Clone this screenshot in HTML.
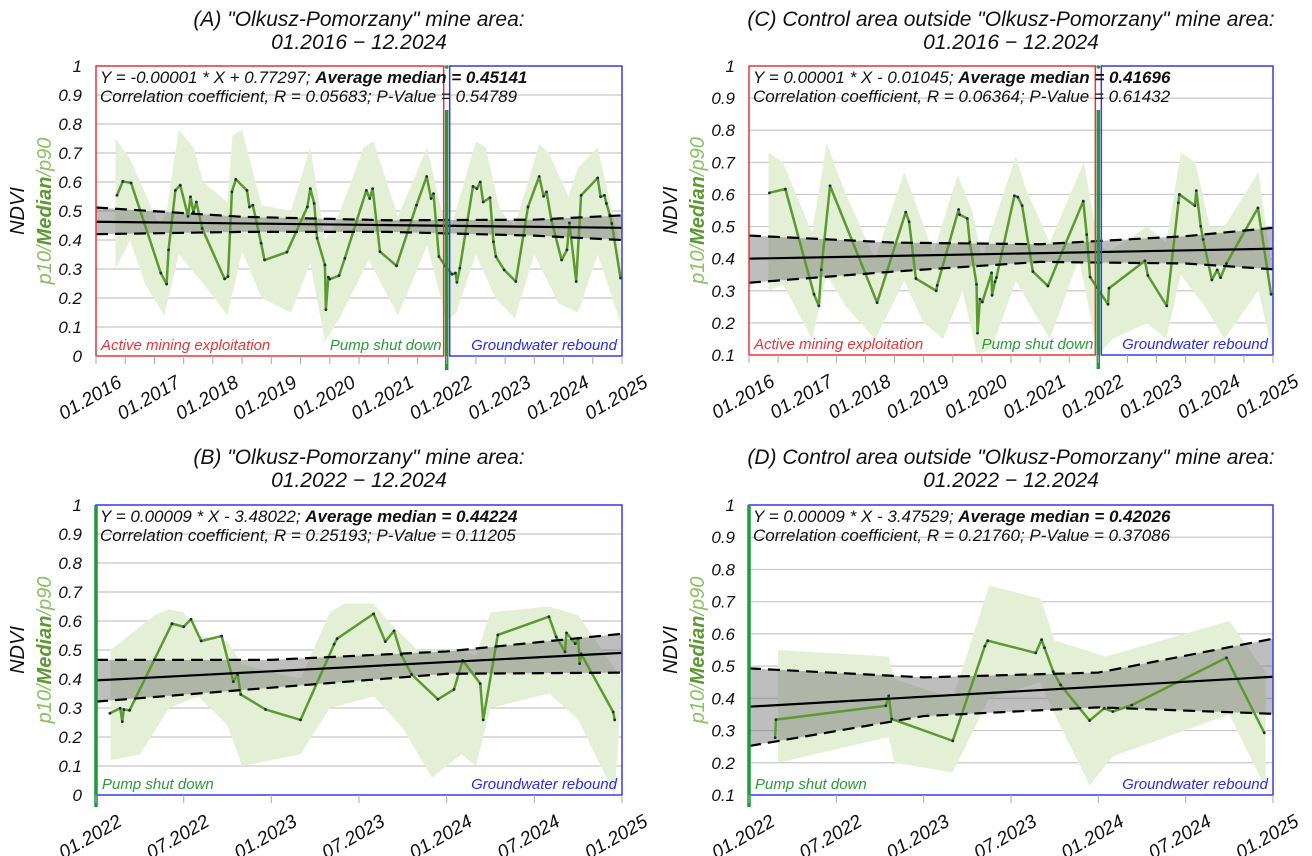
<!DOCTYPE html>
<html><head><meta charset="utf-8">
<style>
body{margin:0;background:#fff;}
svg{display:block;font-family:"Liberation Sans",sans-serif;}
</style></head>
<body>
<svg id="chart" width="1312" height="856" viewBox="0 0 1312 856" xmlns="http://www.w3.org/2000/svg"></svg>
<script>
// ---------- Panel A data (months since 01.2016) ----------
const aMonths=[4.3,5.5,7.2,13.3,14.5,14.9,16.3,17.3,18.9,19.4,20.0,20.6,21.8,26.4,27.1,27.9,28.7,31.0,31.5,32.2,33.9,34.6,39.2,43.4,44.0,44.8,45.4,47.0,47.2,47.7,48.0,49.9,51.1,55.5,56.2,56.8,58.3,61.7,65.8,67.9,68.8,69.3,70.4,71.7,73.1,73.8,74.1,74.7,77.4,78.2,78.9,79.5,80.9,81.6,82.1,83.8,86.2,88.7,91.0,91.9,92.5,93.5,95.6,96.7,97.2,98.6,99.6,103.0,103.6,104.4,104.8,105.5,105.9,107.7];
const aMedian=[0.554,0.602,0.597,0.286,0.248,0.366,0.571,0.589,0.482,0.549,0.497,0.531,0.44,0.266,0.274,0.566,0.609,0.571,0.514,0.52,0.389,0.331,0.358,0.514,0.577,0.526,0.406,0.314,0.16,0.272,0.265,0.277,0.337,0.571,0.543,0.577,0.36,0.311,0.52,0.619,0.543,0.56,0.343,0.311,0.282,0.286,0.254,0.303,0.585,0.577,0.6,0.531,0.546,0.394,0.343,0.297,0.257,0.514,0.619,0.551,0.566,0.469,0.331,0.366,0.459,0.257,0.554,0.614,0.549,0.554,0.526,0.486,0.457,0.269];
const aP90Months=[4,7,13,14.5,17,20,22,27,28,30,34,40,44,47,49,55,57,62,68,71,73,78,80,83,86,91,93,97,99,103,108];
const aP90=[0.75,0.68,0.45,0.5,0.78,0.72,0.6,0.53,0.76,0.78,0.52,0.5,0.72,0.4,0.45,0.72,0.74,0.48,0.72,0.5,0.45,0.74,0.72,0.5,0.45,0.73,0.7,0.55,0.65,0.72,0.35];
const aP10Months=[4,7,10,14,17,22,27,30,34,40,44,47,50,56,62,68,72,74,78,82,86,90,95,99,103,108];
const aP10=[0.3,0.4,0.25,0.14,0.35,0.25,0.14,0.36,0.2,0.15,0.32,0.05,0.13,0.33,0.14,0.38,0.12,0.15,0.35,0.2,0.13,0.35,0.18,0.15,0.35,0.1];
const aTrendMonths=[0,108];
const aTrend=[0.463,0.442];
const aCiMonths=[0,30,60,90,108];
const aCiUpper=[0.512,0.48,0.468,0.47,0.485];
const aCiLower=[0.42,0.428,0.428,0.415,0.40];

// ---------- Panel C data ----------
const cMonths=[4.2,7.5,13.4,14.4,14.9,16.7,26.4,32.3,33.0,34.4,38.6,38.8,43.2,43.4,45.0,45.5,46.9,47.1,47.6,48.1,50.0,50.1,50.7,51.0,54.7,55.4,56.3,58.5,61.6,68.9,69.6,70.3,71.7,74.0,74.2,81.6,82.2,86.1,88.5,88.7,91.9,92.2,93.1,93.6,95.4,96.5,97.2,98.4,104.9,107.6];
const cMedian=[0.605,0.617,0.289,0.253,0.365,0.627,0.263,0.545,0.515,0.338,0.3,0.317,0.553,0.537,0.525,0.452,0.32,0.168,0.274,0.265,0.356,0.286,0.328,0.341,0.596,0.592,0.565,0.36,0.315,0.579,0.475,0.343,0.31,0.258,0.308,0.393,0.348,0.253,0.574,0.6,0.565,0.612,0.501,0.46,0.334,0.365,0.341,0.385,0.558,0.289];
const cP90Months=[4,7,13,16,20,26,32,38,43,46,48,55,57,62,69,72,74,82,86,89,92,95,98,105,108];
const cP90=[0.73,0.7,0.48,0.76,0.6,0.4,0.67,0.42,0.66,0.55,0.4,0.72,0.62,0.45,0.7,0.45,0.42,0.5,0.45,0.73,0.7,0.5,0.5,0.67,0.35];
const cP10Months=[4,7,13,16,20,26,32,36,40,44,47,50,55,62,68,72,75,82,86,89,94,98,105,108];
const cP10=[0.3,0.32,0.15,0.35,0.25,0.15,0.33,0.2,0.15,0.3,0.1,0.12,0.33,0.15,0.4,0.1,0.15,0.2,0.15,0.35,0.25,0.15,0.3,0.1];
const cTrendMonths=[0,108];
const cTrend=[0.40,0.431];
const cCiMonths=[0,30,60,90,108];
const cCiUpper=[0.472,0.45,0.445,0.47,0.496];
const cCiLower=[0.325,0.36,0.39,0.385,0.367];

// ---------- Panel B data (months since 01.2022) ----------
const bMonths=[0.95,1.66,1.8,1.9,2.3,5.2,6.0,6.5,7.2,8.6,9.4,9.7,9.9,11.6,14.0,16.3,16.5,19.0,19.8,20.4,20.9,21.6,23.4,24.5,25.1,26.3,26.5,27.5,31.0,31.5,32.1,32.2,32.8,33.0,33.1,33.2,35.4,35.5];
const bMedian=[0.282,0.299,0.253,0.295,0.292,0.591,0.58,0.606,0.531,0.548,0.391,0.416,0.347,0.295,0.259,0.52,0.539,0.625,0.529,0.566,0.483,0.416,0.33,0.364,0.464,0.384,0.259,0.552,0.615,0.545,0.494,0.559,0.522,0.54,0.453,0.487,0.286,0.259];
const bP90Months=[1,4,5,6,7,9,10,14,16,17,19,20,22,25,26,27,31,33,36];
const bP90=[0.5,0.62,0.64,0.63,0.55,0.53,0.45,0.4,0.63,0.66,0.66,0.6,0.5,0.5,0.48,0.63,0.65,0.62,0.4];
const bP10Months=[1,3,5,7,9,10,14,16,19,21,23,25,26,27,31,33,35.5];
const bP10=[0.12,0.14,0.3,0.34,0.24,0.1,0.14,0.3,0.34,0.23,0.06,0.14,0.1,0.3,0.35,0.26,0.0];
const bTrendMonths=[0,36];
const bTrend=[0.395,0.49];
const bCiMonths=[0,12,24,36];
const bCiUpper=[0.466,0.466,0.495,0.556];
const bCiLower=[0.322,0.37,0.418,0.422];

// ---------- Panel D data ----------
const dMonths=[1.8,1.85,9.4,9.6,9.8,14.0,16.2,16.4,19.7,20.1,20.3,20.9,21.4,23.4,24.4,25.0,26.3,32.8,35.4];
const dMedian=[0.278,0.334,0.377,0.408,0.336,0.268,0.562,0.579,0.541,0.582,0.557,0.483,0.442,0.331,0.369,0.359,0.379,0.526,0.293];
const dP90Months=[2,9.6,10,14,16.5,20,20.1,21,24.5,33,35.5];
const dP90=[0.55,0.53,0.46,0.4,0.75,0.71,0.7,0.58,0.53,0.64,0.48];
const dP10Months=[2,9.6,10,14,16.5,20,21,23.4,25,33,35.5];
const dP10=[0.2,0.28,0.2,0.17,0.4,0.45,0.35,0.13,0.22,0.35,0.12];
const dTrendMonths=[0,36];
const dTrend=[0.374,0.467];
const dCiMonths=[0,12,24,36];
const dCiUpper=[0.493,0.465,0.48,0.585];
const dCiLower=[0.252,0.345,0.372,0.352];

const longTicks=['01.2016','01.2017','01.2018','01.2019','01.2020','01.2021','01.2022','01.2023','01.2024','01.2025'];
const shortTicks=['01.2022','07.2022','01.2023','07.2023','01.2024','07.2024','01.2025'];

const NS='http://www.w3.org/2000/svg';
const svg=document.getElementById('chart');
function mk(tag,attrs,parent){const e=document.createElementNS(NS,tag);for(const k in attrs)e.setAttribute(k,attrs[k]);(parent||svg).appendChild(e);return e;}

function panel(o){
  const g=mk('g',{});
  
  
  const xs=m=>o.x0+(m-o.mMin)/(o.mMax-o.mMin)*(o.x1-o.x0);
  const ys=v=>o.yBot-(v-o.vMin)/(1-o.vMin)*(o.yBot-o.yTop);
  o.title.forEach((t,i)=>{const e=mk('text',{x:(o.x0+o.x1)/2,y:o.titleY+i*23,'text-anchor':'middle','font-size':21,'font-style':'italic',fill:'#111'},g);e.textContent=t;
    
    });
  const yc=(o.yTop+o.yBot)/2;
  const t1=mk('text',{x:0,y:0,transform:`translate(${o.yt1},${yc}) rotate(-90)`,'text-anchor':'middle','font-size':20,'font-style':'italic',fill:'#111'},g);t1.textContent='NDVI';
  
  
  const t2=mk('text',{x:0,y:0,transform:`translate(${o.yt1+27},${yc}) rotate(-90)`,'text-anchor':'middle','font-size':20,'font-style':'italic',fill:'#8cc063'},g);
  
  
  t2.innerHTML='p10/<tspan font-weight="bold" fill="#5b9a30">Median</tspan>/p90';
  for(let v=o.vMin;v<=1.0001;v+=0.1){
    const y=ys(v);
    if(v>o.vMin+0.01){const gl=mk('line',{x1:o.x0,x2:o.x1,y1:y,y2:y,stroke:'#c8c8c8','stroke-width':1.2},g);
      
      }
    const tl=mk('text',{x:o.x0-14,y:y+6,'text-anchor':'end','font-size':17,'font-style':'italic',fill:'#111'},g);
    tl.textContent=(Math.round(v*10)/10).toString();
    
    
  }
  const up=o.p90m.map((m,i)=>xs(m)+','+ys(Math.max(o.vMin,o.p90[i])));
  const lo=o.p10m.map((m,i)=>xs(m)+','+ys(Math.max(o.vMin,o.p10[i]))).reverse();
  const band=mk('polygon',{points:up.concat(lo).join(' '),fill:'#e4f0d6'},g);
  
  
  const cu=o.cim.map((m,i)=>xs(m)+','+ys(o.ciu[i]));
  const cl=o.cim.map((m,i)=>xs(m)+','+ys(o.cil[i]));
  const ci=mk('polygon',{points:cu.concat(cl.slice().reverse()).join(' '),fill:'#6f6f6f','fill-opacity':0.45},g);
  
  
  const pts=o.m.map((m,i)=>xs(m)+','+ys(o.v[i])).join(' ');
  const ml=mk('polyline',{points:pts,fill:'none',stroke:'#5b9a30','stroke-width':2.5,'stroke-linejoin':'round'},g);
  
  
  o.m.forEach((m,i)=>{const c=mk('circle',{cx:xs(m),cy:ys(o.v[i]),r:1.4,fill:'#1c2a4a'},g);
    
    });
  const tr=mk('polyline',{points:o.tm.map((m,i)=>xs(m)+','+ys(o.tv[i])).join(' '),fill:'none',stroke:'#000','stroke-width':2.2},g);
  
  
  const du=mk('polyline',{points:cu.join(' '),fill:'none',stroke:'#000','stroke-width':2.2,'stroke-dasharray':'12,7'},g);
  
  
  const dl=mk('polyline',{points:cl.join(' '),fill:'none',stroke:'#000','stroke-width':2.2,'stroke-dasharray':'12,7'},g);
  
  
  if(o.long){
    const xg=xs(72);
    const r=mk('rect',{x:o.x0,y:o.yTop,width:xg-o.x0-3,height:o.yBot-o.yTop,fill:'none',stroke:'#e8353a','stroke-width':1.5},g);
    
    
    const b=mk('rect',{x:xg+3,y:o.yTop,width:o.x1-xg-3,height:o.yBot-o.yTop,fill:'none',stroke:'#3a3aeb','stroke-width':1.5},g);
    
    
    const gl=mk('line',{x1:xg,x2:xg,y1:o.yTop+44,y2:o.yBot+14,stroke:'#1e9a3a','stroke-width':3.5},g);
    
    
    mk('circle',{cx:xg,cy:o.yTop+1,r:1.8,fill:'#1e9a3a'},g);
    const l1=mk('text',{x:o.x0+5,y:o.yBot-6,'font-size':15,'font-style':'italic',fill:'#e8353a'},g);l1.textContent='Active mining exploitation';
    
    
    const l2=mk('text',{x:xg-5,y:o.yBot-6,'text-anchor':'end','font-size':15,'font-style':'italic',fill:'#2a9a3e'},g);l2.textContent='Pump shut down';
    
    
  } else {
    const b=mk('rect',{x:o.x0,y:o.yTop,width:o.x1-o.x0,height:o.yBot-o.yTop,fill:'none',stroke:'#3a3aeb','stroke-width':1.5},g);
    
    
    const gl=mk('line',{x1:o.x0,x2:o.x0,y1:o.yTop,y2:o.yBot+12,stroke:'#1e9a3a','stroke-width':3.5},g);
    
    
    const l2=mk('text',{x:o.x0+6,y:o.yBot-6,'font-size':15,'font-style':'italic',fill:'#2a9a3e'},g);l2.textContent='Pump shut down';
    
    
  }
  const l3=mk('text',{x:o.x1-5,y:o.yBot-6,'text-anchor':'end','font-size':15,'font-style':'italic',fill:'#2b2bef'},g);l3.textContent='Groundwater rebound';
  
  
  const e1=mk('text',{x:o.x0+4,y:o.yTop+17,'font-size':17,'font-style':'italic',fill:'#111'},g);
  e1.innerHTML=o.eq+' <tspan font-weight="bold">Average median = '+o.avg+'</tspan>';
  
  
  const e2=mk('text',{x:o.x0+4,y:o.yTop+36,'font-size':17,'font-style':'italic',fill:'#111'},g);
  e2.textContent=o.corr;
  
  
  const step=o.long?12:6, minor=6;
  for(let m=o.mMin;m<=o.mMax+0.01;m+=minor){
    const tk=mk('line',{x1:xs(m),x2:xs(m),y1:o.yBot,y2:o.yBot+8,stroke:'#aaa','stroke-width':1},g);
    
    
  }
  o.ticks.forEach((t,i)=>{const x=xs(o.mMin+i*step);
    const tx=mk('text',{x:0,y:0,transform:`translate(${x+27},${o.yBot+30}) rotate(-30)`,'text-anchor':'end','font-size':19,'font-style':'italic',fill:'#111'},g);
    tx.textContent=t;
    
    });
}

panel({name:'panel-a',long:true,x0:96,x1:622,yTop:66,yBot:356,vMin:0,mMin:0,mMax:108,titleY:26,yt1:24,
 title:['(A) "Olkusz-Pomorzany" mine area:','01.2016 − 12.2024'],
 m:aMonths,v:aMedian,p90m:aP90Months,p90:aP90,p10m:aP10Months,p10:aP10,tm:aTrendMonths,tv:aTrend,cim:aCiMonths,ciu:aCiUpper,cil:aCiLower,
 eq:'Y = -0.00001 * X + 0.77297;',avg:'0.45141',corr:'Correlation coefficient, R = 0.05683; P-Value = 0.54789',ticks:longTicks});
panel({name:'panel-c',long:true,x0:749,x1:1273,yTop:66,yBot:355,vMin:0.1,mMin:0,mMax:108,titleY:26,yt1:677,
 title:['(C) Control area outside "Olkusz-Pomorzany" mine area:','01.2016 − 12.2024'],
 m:cMonths,v:cMedian,p90m:cP90Months,p90:cP90,p10m:cP10Months,p10:cP10,tm:cTrendMonths,tv:cTrend,cim:cCiMonths,ciu:cCiUpper,cil:cCiLower,
 eq:'Y = 0.00001 * X - 0.01045;',avg:'0.41696',corr:'Correlation coefficient, R = 0.06364; P-Value = 0.61432',ticks:longTicks});
panel({name:'panel-b',long:false,x0:96,x1:622,yTop:505,yBot:795,vMin:0,mMin:0,mMax:36,titleY:464,yt1:24,
 title:['(B) "Olkusz-Pomorzany" mine area:','01.2022 − 12.2024'],
 m:bMonths,v:bMedian,p90m:bP90Months,p90:bP90,p10m:bP10Months,p10:bP10,tm:bTrendMonths,tv:bTrend,cim:bCiMonths,ciu:bCiUpper,cil:bCiLower,
 eq:'Y = 0.00009 * X - 3.48022;',avg:'0.44224',corr:'Correlation coefficient, R = 0.25193; P-Value = 0.11205',ticks:shortTicks});
panel({name:'panel-d',long:false,x0:749,x1:1273,yTop:505,yBot:795,vMin:0.1,mMin:0,mMax:36,titleY:464,yt1:677,
 title:['(D) Control area outside "Olkusz-Pomorzany" mine area:','01.2022 − 12.2024'],
 m:dMonths,v:dMedian,p90m:dP90Months,p90:dP90,p10m:dP10Months,p10:dP10,tm:dTrendMonths,tv:dTrend,cim:dCiMonths,ciu:dCiUpper,cil:dCiLower,
 eq:'Y = 0.00009 * X - 3.47529;',avg:'0.42026',corr:'Correlation coefficient, R = 0.21760; P-Value = 0.37086',ticks:shortTicks});
</script>
</body></html>
